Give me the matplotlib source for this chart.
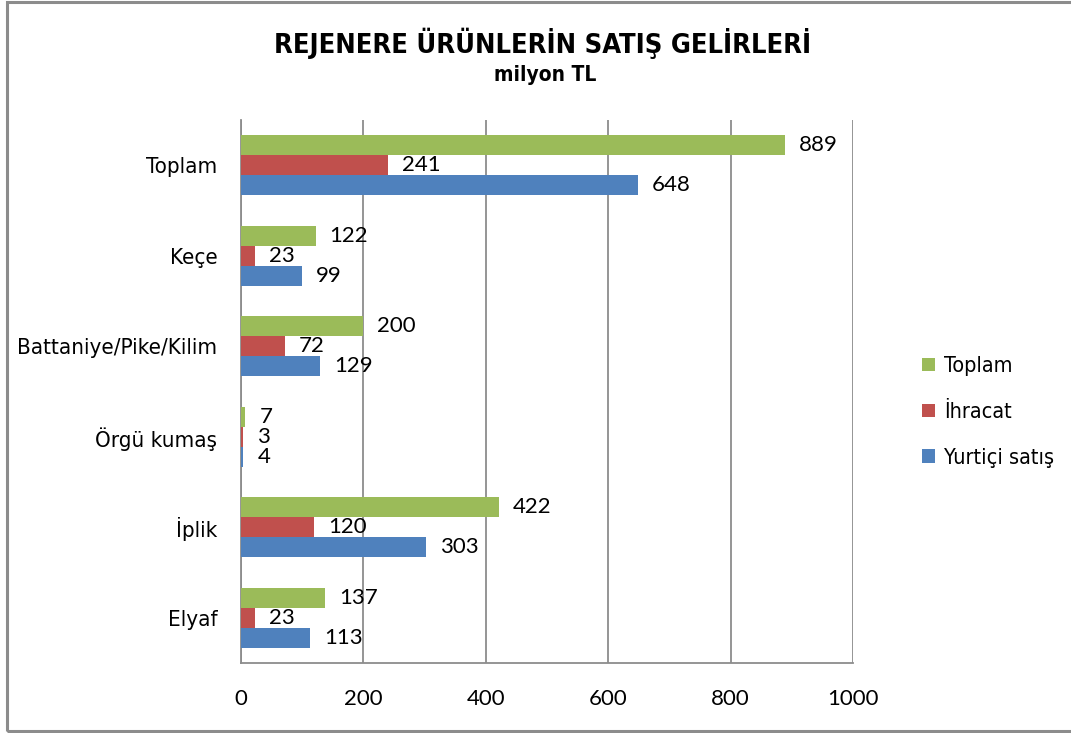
import matplotlib
matplotlib.use("Agg")
import matplotlib.pyplot as plt
from matplotlib.patches import Rectangle
from matplotlib import font_manager as fm
import numpy as np

categories = ["Elyaf", "İplik", "Örgü kumaş", "Battaniye/Pike/Kilim", "Keçe", "Toplam"]
yurtici = [113, 303, 4, 129, 99, 648]
ihracat = [23, 120, 3, 72, 23, 241]
toplam = [137, 422, 7, 200, 122, 889]
series_names = ["Yurtiçi satış", "İhracat", "Toplam"]
xticks = [0, 200, 400, 600, 800, 1000]

fl = fm.fontManager.ttflist
names = {f.name for f in fl}
stretch = "normal"
if "Liberation Sans Narrow" in names:
    narrow = "Liberation Sans Narrow"
elif any(f.name == "DejaVu Sans" and str(f.stretch) in ("condensed", "semi-condensed") for f in fl):
    narrow = "DejaVu Sans"
    stretch = "condensed"
else:
    narrow = "Liberation Sans"
numfont = "Lato" if "Lato" in names else "DejaVu Sans"

c_blue, c_red, c_green = "#4F81BD", "#C0504D", "#9BBB59"

fig = plt.figure(figsize=(10.71, 7.33), dpi=100)
fig.patch.set_facecolor("white")
fig.add_artist(Rectangle((7/1071, 2/733), 1.1, 729/733, transform=fig.transFigure,
                         fill=False, edgecolor="#8c8c8c", linewidth=2.2))

ax = fig.add_axes([241/1071, 1-663/733, (853-241)/1071, (663-120)/733])
y = np.arange(len(categories))
h = 0.22
bars_b = ax.barh(y - h, yurtici, height=h, color=c_blue, label=series_names[0], zorder=3)
bars_r = ax.barh(y, ihracat, height=h, color=c_red, label=series_names[1], zorder=3)
bars_g = ax.barh(y + h, toplam, height=h, color=c_green, label=series_names[2], zorder=3)

for bars, vals in [(bars_b, yurtici), (bars_r, ihracat), (bars_g, toplam)]:
    for b, v in zip(bars, vals):
        ax.annotate(str(v), (b.get_width(), b.get_y() + b.get_height()/2),
                    xytext=(14, 0), textcoords="offset pixels",
                    va="center", ha="left", fontsize=16, family=numfont, color="black")

ax.set_xlim(0, 1000)
ax.set_ylim(-0.5, len(categories) - 0.5)
ax.set_xticks(xticks)
ax.set_xticklabels([str(t) for t in xticks], family=numfont, fontsize=16)
ax.set_yticks(y)
ax.set_yticklabels(categories, family=narrow, fontsize=16, fontstretch=stretch)
ax.tick_params(axis="x", length=0, pad=19)
ax.tick_params(axis="y", length=0, pad=17)
ax.grid(axis="x", color="#8c8c8c", linewidth=1.3, zorder=0)
for s in ["top", "right"]:
    ax.spines[s].set_visible(False)
for s in ["left", "bottom"]:
    ax.spines[s].set_color("#8c8c8c")
    ax.spines[s].set_linewidth(1.3)

fig.text(543/1071, 1-43/733, "REJENERE ÜRÜNLERİN SATIŞ GELİRLERİ", ha="center", va="center",
         family=narrow, fontsize=19.5, fontweight="bold", fontstretch=stretch)
fig.text(545/1071, 1-75/733, "milyon TL", ha="center", va="center",
         family=narrow, fontsize=15, fontweight="bold", fontstretch=stretch)

handles, labels = ax.get_legend_handles_labels()
leg = fig.legend(handles[::-1], labels[::-1], loc="center left",
                 bbox_to_anchor=(903/1071, 1-412/733), frameon=False,
                 prop={"family": narrow, "size": 15.5, "stretch": stretch},
                 handlelength=0.6, handleheight=0.6,
                 handletextpad=0.4, labelspacing=1.2)

fig.savefig("out.png", dpi=100, facecolor="white")
